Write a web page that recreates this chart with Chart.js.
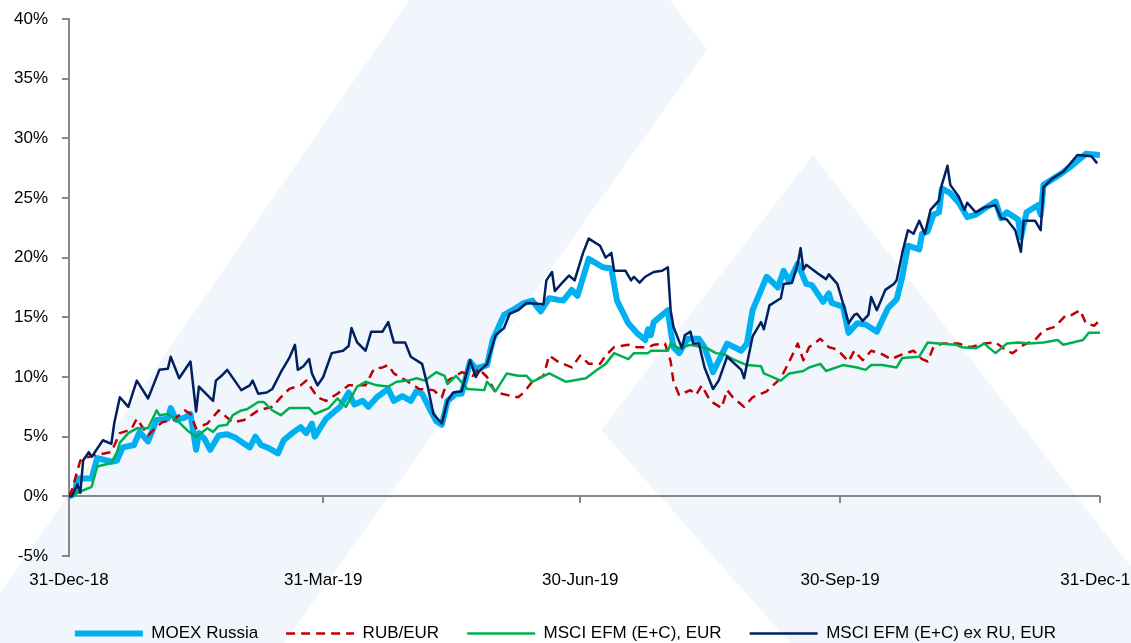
<!DOCTYPE html>
<html>
<head>
<meta charset="utf-8">
<script src="https://cdn.jsdelivr.net/npm/chart.js@4.4.1/dist/chart.umd.min.js"></script>
<style>
  html, body { margin: 0; padding: 0; background: #fff; }
  #wrap { width: 1131px; height: 643px; position: relative; }
</style>
</head>
<body>
<div id="wrap"><canvas id="chart"></canvas></div>
<script>
// x values are calendar days since 31-Dec-18
var tickDays = [0, 90, 181, 273, 365];
var tickLabels = ['31-Dec-18', '31-Mar-19', '30-Jun-19', '30-Sep-19', '31-Dec-19'];

var moexDays = [0, 2, 3, 8, 10, 15, 17, 19, 23, 25, 28, 31, 35, 36, 38, 41, 43, 45, 46, 48, 50, 53, 56, 59, 62, 64, 66, 68, 71, 74, 76, 79, 82, 84, 86, 87, 91, 96, 99, 101, 104, 106, 109, 113, 115, 118, 121, 123, 125, 128, 130, 132, 134, 137, 139, 142, 144, 148, 150, 154, 157, 161, 164, 167, 170, 175, 178, 180, 184, 189, 192, 194, 198, 201, 204, 205, 206, 207, 212, 213, 214, 216, 219, 223, 225, 228, 233, 238, 240, 242, 247, 251, 253, 255, 258, 261, 263, 267, 269, 270, 274, 276, 279, 282, 286, 290, 293, 295, 297, 301, 302, 304, 306, 308, 309, 312, 315, 318, 321, 324, 328, 330, 332, 336, 337, 339, 343, 344, 345, 351, 355, 360, 365];
var moexVals = [0, 0.2, 1.5, 1.5, 3.2, 2.9, 3.0, 4.1, 4.3, 5.4, 4.6, 6.4, 6.5, 7.4, 6.4, 6.6, 6.9, 3.9, 5.3, 4.8, 3.9, 5.1, 5.2, 4.9, 4.4, 4.1, 5.0, 4.3, 4.0, 3.6, 4.7, 5.3, 5.8, 5.3, 6.1, 5.0, 6.5, 7.5, 8.7, 7.7, 8.0, 7.5, 8.3, 9.0, 8.0, 8.4, 8.0, 8.8, 8.6, 7.2, 6.3, 6.0, 8.0, 8.6, 8.6, 11.3, 10.7, 11.0, 13.1, 15.2, 15.6, 16.2, 16.4, 15.5, 16.6, 16.4, 17.3, 16.8, 19.9, 19.2, 19.1, 16.4, 14.5, 13.7, 13.1, 14.0, 13.5, 14.6, 15.6, 13.9, 12.5, 12.0, 13.2, 13.2, 12.5, 10.4, 12.8, 12.2, 12.8, 15.6, 18.4, 17.5, 18.9, 18.0, 19.5, 17.8, 17.7, 16.3, 17.0, 16.2, 15.9, 13.7, 14.5, 14.4, 13.8, 15.8, 16.5, 18.4, 21.0, 20.7, 22.0, 22.2, 23.6, 23.8, 25.8, 25.4, 24.6, 23.4, 23.6, 24.1, 24.7, 23.3, 23.8, 23.2, 21.7, 23.8, 24.4, 23.6, 26.1, 27.0, 27.7, 28.7, 28.6];

var rubDays = [0, 1, 4, 8, 15, 18, 22, 24, 28, 31, 33, 37, 41, 43, 45, 49, 53, 58, 62, 67, 72, 75, 78, 82, 84, 86, 88, 91, 95, 99, 105, 108, 111, 113, 115, 120, 124, 129, 132, 134, 137, 139, 143, 145, 148, 151, 155, 159, 161, 164, 168, 170, 173, 178, 181, 184, 188, 190, 193, 198, 201, 205, 207, 211, 213, 214, 216, 220, 222, 224, 227, 231, 233, 235, 239, 242, 247, 252, 255, 258, 260, 262, 266, 269, 272, 276, 278, 281, 284, 288, 291, 295, 299, 302, 304, 306, 309, 315, 319, 324, 328, 332, 334, 338, 342, 345, 349, 353, 355, 358, 360, 363, 365];
var rubVals = [0, 0.5, 3.0, 3.4, 3.7, 5.3, 5.6, 6.5, 5.1, 5.8, 6.2, 6.4, 7.2, 6.9, 5.7, 6.1, 7.2, 6.2, 6.4, 7.2, 7.5, 8.3, 9.0, 9.3, 9.7, 9.0, 8.3, 8.0, 8.6, 9.3, 9.3, 10.7, 10.8, 11.0, 10.3, 9.6, 9.0, 8.9, 8.3, 9.7, 10.1, 10.4, 10.1, 10.7, 10.0, 8.7, 8.5, 8.3, 8.7, 9.6, 10.1, 11.8, 11.3, 10.8, 11.8, 11.1, 11.1, 11.8, 12.5, 12.7, 12.5, 12.5, 12.7, 12.8, 11.3, 9.6, 8.5, 8.9, 8.5, 9.3, 8.0, 7.4, 8.9, 8.3, 7.5, 8.3, 8.8, 9.9, 11.3, 12.8, 11.4, 12.5, 13.2, 12.5, 12.3, 11.3, 12.2, 11.4, 12.2, 11.9, 11.5, 11.9, 12.2, 11.5, 11.3, 12.5, 12.8, 12.8, 12.5, 12.8, 12.9, 12.2, 12.0, 12.7, 13.1, 13.9, 14.2, 15.2, 15.2, 15.6, 14.5, 14.3, 14.8];

var msciDays = [0, 1, 3, 8, 10, 15, 17, 18, 21, 24, 28, 31, 32, 35, 39, 42, 45, 49, 51, 53, 56, 58, 61, 63, 67, 69, 72, 75, 78, 85, 87, 92, 95, 98, 102, 105, 109, 113, 116, 120, 123, 126, 130, 133, 134, 137, 141, 147, 148, 151, 155, 159, 162, 164, 170, 176, 183, 187, 190, 193, 198, 200, 205, 206, 212, 213, 216, 220, 226, 229, 232, 235, 240, 245, 246, 252, 255, 260, 262, 266, 268, 274, 279, 282, 284, 288, 293, 295, 301, 304, 308, 314, 316, 321, 324, 328, 332, 336, 340, 345, 350, 352, 359, 361, 365];
var msciVals = [0, 0, 0.3, 0.8, 2.5, 2.8, 3.7, 4.5, 5.3, 5.7, 5.7, 7.2, 6.8, 6.9, 6.2, 5.5, 5.0, 5.7, 5.4, 5.9, 6.0, 6.8, 7.2, 7.3, 7.9, 7.9, 7.2, 6.8, 7.4, 7.4, 6.9, 7.4, 8.2, 7.5, 9.2, 9.6, 9.3, 9.2, 9.6, 9.7, 9.9, 9.7, 10.4, 10.1, 9.4, 10.1, 9.0, 8.9, 9.6, 8.8, 10.3, 10.1, 10.1, 9.6, 10.3, 9.6, 9.9, 10.6, 11.1, 12.0, 11.5, 12.0, 12.0, 12.2, 12.2, 12.8, 12.4, 12.7, 12.4, 12.0, 11.9, 11.5, 11.0, 10.9, 10.3, 9.7, 10.3, 10.5, 10.8, 11.1, 10.5, 11.0, 10.8, 10.6, 11.0, 11.0, 10.8, 11.6, 11.7, 12.9, 12.8, 12.7, 12.5, 12.4, 12.8, 12.0, 12.8, 12.9, 12.8, 12.9, 13.1, 12.7, 13.1, 13.7, 13.7];

var exRuDays = [0, 1, 3, 4, 5, 7, 8, 12, 15, 16, 18, 21, 24, 28, 32, 35, 36, 39, 43, 45, 46, 51, 52, 54, 56, 61, 64, 65, 67, 70, 72, 75, 78, 80, 81, 83, 85, 86, 88, 90, 93, 97, 99, 100, 102, 105, 107, 111, 113, 115, 119, 121, 125, 127, 129, 132, 134, 136, 139, 142, 144, 145, 148, 151, 154, 156, 159, 162, 168, 169, 171, 172, 175, 177, 179, 182, 184, 188, 190, 192, 193, 197, 199, 200, 202, 204, 207, 210, 212, 213, 214, 217, 218, 220, 221, 223, 225, 228, 230, 233, 238, 239, 242, 245, 246, 248, 252, 253, 256, 258, 259, 260, 261, 265, 268, 269, 272, 274, 276, 278, 279, 281, 283, 284, 286, 289, 292, 293, 295, 297, 299, 301, 303, 305, 308, 309, 311, 312, 315, 317, 318, 321, 324, 328, 330, 332, 335, 337, 338, 342, 344, 345, 348, 352, 357, 362, 364];
var exRuVals = [0, 0, 1.0, 0.3, 3.0, 3.7, 3.3, 4.7, 4.4, 6.1, 8.3, 7.5, 9.7, 8.2, 10.6, 10.7, 11.7, 9.9, 11.3, 7.1, 9.2, 8.0, 9.7, 10.1, 10.6, 8.9, 9.3, 9.7, 8.6, 8.7, 9.0, 10.4, 11.6, 12.7, 10.6, 10.9, 11.5, 10.3, 9.3, 10.0, 12.0, 12.2, 12.6, 14.1, 12.9, 12.2, 13.8, 13.8, 14.6, 12.9, 12.9, 11.7, 11.1, 9.2, 6.9, 6.1, 8.0, 8.7, 8.8, 11.4, 10.0, 10.4, 11.1, 13.5, 14.1, 15.3, 15.6, 16.2, 16.1, 18.1, 18.8, 17.2, 18.0, 18.5, 18.1, 20.4, 21.6, 21.0, 20.0, 20.4, 18.9, 18.9, 18.1, 18.4, 17.9, 18.4, 18.8, 18.9, 19.2, 15.6, 14.2, 12.4, 13.5, 13.8, 12.8, 12.8, 10.8, 9.0, 9.7, 11.7, 10.6, 9.9, 13.4, 14.6, 14.0, 16.0, 16.6, 17.8, 17.9, 19.5, 20.8, 19.0, 19.4, 18.7, 18.2, 18.6, 17.8, 16.2, 14.5, 15.2, 15.3, 14.7, 15.2, 16.7, 15.6, 17.3, 17.8, 18.1, 20.4, 22.3, 22.0, 23.1, 22.0, 24.0, 24.8, 26.1, 27.7, 26.1, 25.1, 24.0, 24.6, 23.8, 24.2, 24.4, 23.3, 23.2, 22.3, 20.5, 23.1, 23.1, 22.3, 25.9, 26.6, 27.2, 28.6, 28.5, 27.9];

var seriesNames = ['MOEX Russia', 'RUB/EUR', 'MSCI EFM (E+C), EUR', 'MSCI EFM (E+C) ex RU, EUR'];

function pairs(days, vals) {
    return days.map(function (d, i) { return { x: d, y: vals[i] }; });
}

// faint logo watermark behind the plot
var watermark = {
    id: 'watermark',
    beforeDraw: function (chart) {
        var c = chart.ctx;
        c.save();
        c.fillStyle = '#ffffff';
        c.fillRect(0, 0, chart.width, chart.height);
        c.fillStyle = '#f1f6fd';
        c.beginPath();
        c.moveTo(535, -182); c.lineTo(707, 50); c.lineTo(284, 643); c.lineTo(-34, 643);
        c.closePath();
        c.fill();
        c.beginPath();
        c.moveTo(813, 155); c.lineTo(1190, 643); c.lineTo(790, 643); c.lineTo(601, 430);
        c.closePath();
        c.fill();
        c.restore();
    }
};

// horizontal axis line crossing at 0%, with tick marks
var zeroAxis = {
    id: 'zeroAxis',
    beforeDatasetsDraw: function (chart) {
        var c = chart.ctx, x = chart.scales.x, y = chart.scales.y;
        var y0 = Math.round(y.getPixelForValue(0));
        c.save();
        c.strokeStyle = '#878787';
        c.lineWidth = 2;
        c.beginPath();
        c.moveTo(x.left, y0);
        c.lineTo(x.right, y0);
        tickDays.forEach(function (d) {
            if (d === 0) return;
            var px = Math.round(x.getPixelForValue(d));
            c.moveTo(px, y0);
            c.lineTo(px, y0 + 7);
        });
        c.stroke();
        c.restore();
    }
};

var FONT = { family: "'Liberation Sans', Arial, sans-serif", size: 17 };

new Chart(document.getElementById('chart'), {
    type: 'line',
    data: {
        datasets: [
            {
                label: seriesNames[0],
                data: pairs(moexDays, moexVals),
                borderColor: '#00b0f0',
                borderWidth: 6,
                order: 4
            },
            {
                label: seriesNames[1],
                data: pairs(rubDays, rubVals),
                borderColor: '#c00000',
                borderWidth: 2.5,
                borderDash: [9, 6],
                order: 3
            },
            {
                label: seriesNames[2],
                data: pairs(msciDays, msciVals),
                borderColor: '#00b050',
                borderWidth: 2.5,
                order: 2
            },
            {
                label: seriesNames[3],
                data: pairs(exRuDays, exRuVals),
                borderColor: '#002060',
                borderWidth: 2.5,
                order: 1
            }
        ]
    },
    options: {
        responsive: true,
        maintainAspectRatio: false,
        animation: false,
        events: [],
        elements: {
            point: { radius: 0 },
            line: { tension: 0, borderJoinStyle: 'round', fill: false }
        },
        layout: { padding: { left: 0, right: 0, top: 19, bottom: -9 } },
        scales: {
            x: {
                type: 'linear',
                min: 0,
                max: 365,
                afterBuildTicks: function (scale) {
                    scale.ticks = tickDays.map(function (d) { return { value: d }; });
                },
                afterFit: function (scale) {
                    scale.paddingLeft = 0;
                    scale.paddingRight = 0;
                    scale.height = 41;
                },
                grid: { display: false, drawTicks: false },
                border: { display: false },
                ticks: {
                    autoSkip: false,
                    maxRotation: 0,
                    padding: 14,
                    color: '#000',
                    font: FONT,
                    callback: function (v) {
                        var i = tickDays.indexOf(v);
                        return i >= 0 ? tickLabels[i] : '';
                    }
                }
            },
            y: {
                min: -5,
                max: 40,
                afterFit: function (scale) {
                    scale.width = 69;
                    scale.paddingTop = 0;
                    scale.paddingBottom = 0;
                },
                grid: {
                    drawOnChartArea: false,
                    drawTicks: true,
                    tickLength: 7,
                    color: '#878787',
                    lineWidth: 2
                },
                border: { display: true, color: '#878787', width: 2 },
                ticks: {
                    stepSize: 5,
                    padding: 14,
                    color: '#000',
                    font: FONT,
                    callback: function (v) { return v + '%'; }
                }
            },
            // empty right-hand spacer so the plot stops at 31-Dec-19 while the legend stays centred
            spacer: {
                type: 'linear',
                position: 'right',
                display: true,
                grid: { display: false, drawTicks: false },
                border: { display: false },
                ticks: { display: false },
                afterFit: function (scale) {
                    scale.width = 31;
                    scale.paddingTop = 0;
                    scale.paddingBottom = 0;
                }
            }
        },
        plugins: {
            tooltip: { enabled: false },
            legend: {
                position: 'bottom',
                labels: {
                    usePointStyle: true,
                    pointStyleWidth: 68,
                    padding: 28,
                    color: '#000',
                    font: FONT,
                    sort: function (a, b) { return a.datasetIndex - b.datasetIndex; },
                    generateLabels: function (chart) {
                        return chart.data.datasets.map(function (ds, i) {
                            return {
                                text: ds.label,
                                datasetIndex: i,
                                strokeStyle: ds.borderColor,
                                fillStyle: ds.borderColor,
                                lineWidth: ds.borderWidth,
                                lineDash: ds.borderDash || [],
                                pointStyle: 'line',
                                fontColor: '#000'
                            };
                        });
                    }
                }
            }
        }
    },
    plugins: [watermark, zeroAxis]
});
</script>
</body>
</html>
